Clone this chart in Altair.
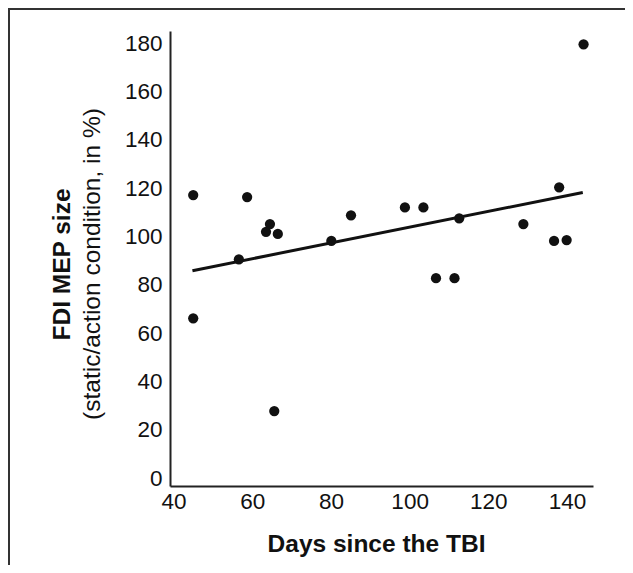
import altair as alt
import pandas as pd

# Data
days = [45.0, 45.0, 56.6, 58.7, 63.5, 64.5, 66.5, 65.6, 80.1, 85.1,
        98.8, 103.5, 106.7, 111.4, 112.6, 128.9, 136.7, 138.0, 139.9, 144.2]
mep = [117.2, 66.2, 90.6, 116.4, 102.0, 105.2, 101.1, 27.8, 98.2, 108.8,
       112.1, 112.1, 82.8, 82.8, 107.6, 105.2, 98.2, 120.4, 98.6, 179.6]
fit_days = [44.8, 144.0]
fit_mep = [85.9, 118.3]
y_ticks = [0, 20, 40, 60, 80, 100, 120, 140, 160, 180]
x_ticks = [40, 60, 80, 100, 120, 140]

pts = pd.DataFrame({"days": days, "mep": mep})
fit = pd.DataFrame({"days": fit_days, "mep": fit_mep})
sub = pd.DataFrame({"t": ["(static/action condition, in %)"]})
frame = pd.DataFrame({"k": [0]})

W, H = 423, 455
FONT = "Liberation Sans"

xs = alt.Scale(domain=[39.1, 146.6], nice=False, zero=False)
ys = alt.Scale(domain=[-3.2, 185.1], nice=False, zero=False)

xax = alt.Axis(values=x_ticks, title="Days since the TBI", titleFontWeight="bold",
               titleFontSize=24.5, titleX=206, titleY=58, titleBaseline="middle",
               titleAlign="center", labelPadding=4)
yax = alt.Axis(values=y_ticks, title="FDI MEP size", titleFontWeight="bold",
               titleFontSize=24.5, titleX=-108, titleY=233, titleAngle=270,
               titleBaseline="middle", titleAlign="center", labelPadding=8)

points = alt.Chart(pts).mark_circle(size=105, color="#111111", opacity=1).encode(
    x=alt.X("days:Q", scale=xs, axis=xax),
    y=alt.Y("mep:Q", scale=ys, axis=yax),
)

line = alt.Chart(fit).mark_line(color="#111111", strokeWidth=3).encode(
    x=alt.X("days:Q", scale=xs),
    y=alt.Y("mep:Q", scale=ys),
)

subtitle = alt.Chart(sub).mark_text(
    angle=270, align="center", baseline="middle", fontSize=24.5, font=FONT, color="#111111"
).encode(text="t:N", x=alt.value(-77), y=alt.value(233))

left_border = alt.Chart(frame).mark_rule(color="#333333", strokeWidth=2).encode(
    x=alt.value(-161), y=alt.value(-23), y2=alt.value(H + 80)
)
top_border = alt.Chart(frame).mark_rule(color="#333333", strokeWidth=2).encode(
    x=alt.value(-162), x2=alt.value(W + 40), y=alt.value(-22)
)

chart = alt.layer(line, points, subtitle, left_border, top_border).properties(
    width=W, height=H,
    autosize=alt.AutoSizeParams(type="none"),
    padding={"left": 162, "top": 23, "right": 32, "bottom": 79},
    background="white",
).configure_view(stroke=None).configure_axis(
    grid=False, ticks=False, domainColor="#222222", domainWidth=2,
    labelFont=FONT, labelFontSize=22.5, labelColor="#111111",
    titleFont=FONT, titleColor="#111111",
)

chart.save("out.html", embed_options={"renderer": "svg", "actions": False})
